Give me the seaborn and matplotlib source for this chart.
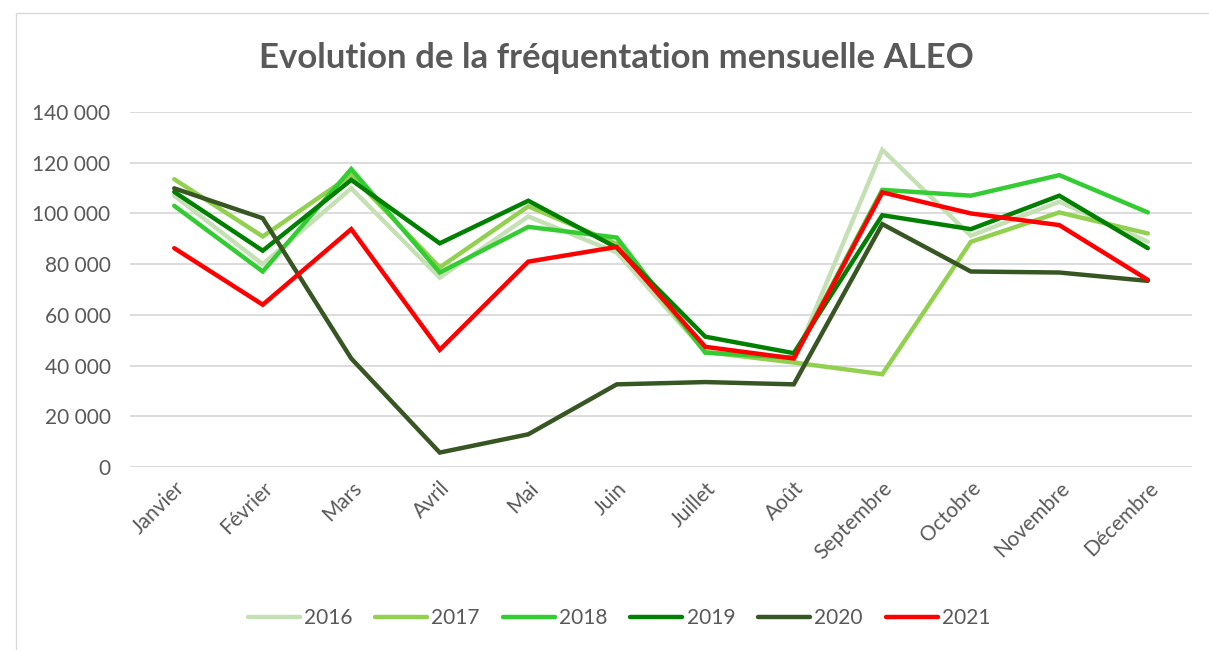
import seaborn as sns
import matplotlib.pyplot as plt
import pandas as pd
from matplotlib.ticker import FuncFormatter
from matplotlib.patches import Rectangle

# data
mois = ["Janvier", "Février", "Mars", "Avril", "Mai", "Juin", "Juillet",
        "Août", "Septembre", "Octobre", "Novembre", "Décembre"]
annees = ["2016", "2017", "2018", "2019", "2020", "2021"]
v2016 = [107000, 80000, 109900, 74700, 98800, 84600, 45400, 41800, 125100, 91200, 104600, 88800]
v2017 = [113500, 90900, 115100, 78700, 102800, 88000, 45400, 41200, 36600, 88800, 100400, 92100]
v2018 = [103000, 77100, 117500, 76700, 94700, 90500, 45100, 43150, 109300, 107000, 115100, 100400]
v2019 = [108500, 85300, 113200, 88200, 105000, 86500, 51400, 44900, 99300, 93800, 107000, 86300]
v2020 = [109900, 98100, 42800, 5700, 12900, 32600, 33500, 32600, 95800, 77100, 76700, 73400]
v2021 = [86300, 64000, 93800, 46200, 81000, 86800, 47400, 42800, 108300, 100000, 95400, 73800]
couleurs = ["#C5E0B4", "#92D050", "#33CC33", "#008000", "#375623", "#FF0000"]

series = [v2016, v2017, v2018, v2019, v2020, v2021]
df = pd.DataFrame({
    "mois": mois * len(annees),
    "pos": list(range(len(mois))) * len(annees),
    "annee": [a for a in annees for _ in mois],
    "visites": [v for s in series for v in s],
})

sns.set_theme(style="white")
plt.rcParams["font.family"] = ["Lato", "DejaVu Sans"]
gris = "#595959"

fig = plt.figure(figsize=(12.09, 6.5), dpi=100)
ax = fig.add_axes([0.1075, 0.2815, 0.8785, 0.5462])

sns.lineplot(data=df, x="pos", y="visites", hue="annee", palette=couleurs,
             linewidth=3.2, ax=ax, legend=True, sort=False)
for ln in ax.lines:
    ln.set_solid_capstyle("round")
    ln.set_solid_joinstyle("miter")

ax.set_xlim(-0.5, 11.5)
ax.set_ylim(0, 140000)
ax.set_yticks(range(0, 140001, 20000))
ax.yaxis.set_major_formatter(FuncFormatter(lambda v, p: f"{int(v):,}".replace(",", " ")))
ax.set_xticks(range(len(mois)))
ax.set_xticklabels(mois, rotation=45, ha="right", rotation_mode="anchor")
ax.tick_params(axis="both", colors=gris, labelsize=15, length=0)
ax.tick_params(axis="x", pad=8)
ax.tick_params(axis="y", pad=14)
ax.grid(axis="y", color="#D9D9D9", linewidth=1.3)
ax.set_axisbelow(True)
for s in ax.spines.values():
    s.set_visible(False)
ax.set_xlabel("")
ax.set_ylabel("")

h, l = ax.get_legend_handles_labels()
ax.legend_.remove()
leg = fig.legend(h, l, loc="center", bbox_to_anchor=(0.512, 0.049), ncol=6,
                 frameon=False, fontsize=15, handlelength=2.5, columnspacing=1.1,
                 handletextpad=0.2)
for t in leg.get_texts():
    t.set_color(gris)
for lh in leg.get_lines():
    lh.set_linewidth(3.2)
    lh.set_solid_capstyle("round")

fig.text(0.51, 0.91, "Evolution de la fréquentation mensuelle ALEO", ha="center",
         va="center", fontsize=25, fontweight="bold", color=gris)

fig.patches.append(Rectangle((0.013, -0.01), 1.0, 0.99, transform=fig.transFigure,
                             fill=False, edgecolor="#D9D9D9", linewidth=1))

fig.savefig("out.png", dpi=100)
